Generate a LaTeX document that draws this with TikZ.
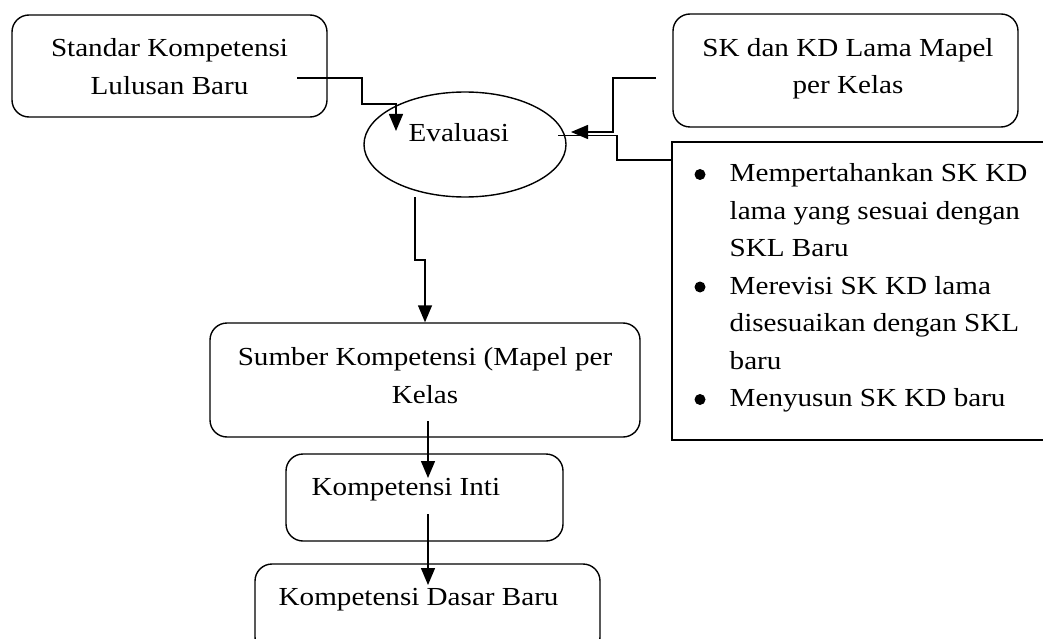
\documentclass[tikz,border=0pt]{standalone}
\usepackage{fontspec}
\setmainfont{Liberation Serif}[FakeStretch=1.12]
\usetikzlibrary{arrows.meta,shapes.geometric}
\begin{document}
\begin{tikzpicture}[x=1pt,y=-1pt,
  line width=1.4pt,
  rbox/.style={draw, rounded corners=17pt, line width=1.4pt, inner sep=0pt},
  sbox/.style={draw, line width=1.8pt, inner sep=0pt},
  ell/.style={draw, ellipse, line width=1.4pt, inner sep=0pt},
  txt/.style={anchor=base, inner sep=0pt, font=\fontsize{26}{37.5}\selectfont},
  ltxt/.style={anchor=base west, inner sep=0pt, font=\fontsize{26}{37.5}\selectfont},
  dot/.style={circle, fill=black, inner sep=0pt, minimum size=11pt},
  arr/.style={-{Triangle[length=17pt,width=14pt]}},
]
\useasboundingbox (0,0) rectangle (1043,639);
\clip (0,0) rectangle (1043,639);
\fill[white] (0,0) rectangle (1043,639);

% boxes
\node[rbox, minimum width=315pt, minimum height=102pt] (skl) at (169.5,66) {};
\node[rbox, minimum width=345pt, minimum height=113pt] (skkd) at (845.5,70.5) {};
\node[ell, minimum width=202pt, minimum height=105pt] (eval) at (465,144.5) {};
\node[sbox, minimum width=388pt, minimum height=298pt] (opt) at (866,291) {};
\node[rbox, minimum width=430pt, minimum height=114pt] (sumber) at (425,380) {};
\node[rbox, minimum width=277pt, minimum height=87pt] (inti) at (424.5,497.5) {};
\node[rbox, minimum width=345pt, minimum height=90pt] (dasar) at (427.5,609) {};

% texts
\node[txt] (skl1) at (169.5,57) {Standar Kompetensi};
\node[txt] (skl2) at (169.5,95) {Lulusan Baru};
\node[txt] (skkd1) at (848,57) {SK dan KD Lama Mapel};
\node[txt] (skkd2) at (848,94) {per Kelas};
\node[ltxt] (evalt) at (408,142) {Evaluasi};
\node[txt] (sum1) at (425,365) {Sumber Kompetensi (Mapel per};
\node[txt] (sum2) at (425,403) {Kelas};
\node[ltxt] (intit) at (311,495) {Kompetensi Inti};
\node[ltxt] (dasart) at (278,605) {Kompetensi Dasar Baru};

% bullet list
\node[dot] (b1) at (700,174.5) {};
\node[dot] (b2) at (700,287) {};
\node[dot] (b3) at (700,399.5) {};
\node[ltxt] (l1) at (729,181.5) {Mempertahankan SK KD};
\node[ltxt] (l2) at (729,219) {lama yang sesuai dengan};
\node[ltxt] (l3) at (729,256.5) {SKL Baru};
\node[ltxt] (l4) at (729,294) {Merevisi SK KD lama};
\node[ltxt] (l5) at (729,331.5) {disesuaikan dengan SKL};
\node[ltxt] (l6) at (729,369) {baru};
\node[ltxt] (l7) at (729,406.5) {Menyusun SK KD baru};

% connector coordinates
\coordinate (c1s) at (297,78);
\coordinate (c1e) at (396,131);
\coordinate (c2s) at (656,78);
\coordinate (c2e) at (571,132);
\coordinate (c3s) at (opt.west |- 0,160);
\coordinate (c3e) at (558,135.5);
\coordinate (c4s) at (415,197);
\coordinate (c5s) at (428,421);
\coordinate (c5e) at (428,478);
\coordinate (c6s) at (428,514);
\coordinate (c6e) at (428,585);

% connectors
\draw[arr] (c1s) -- (362,78) -- (362,104) -| (c1e);
\draw[arr] (c2s) -- (613,78) |- (c2e);
\draw (c3s) -- (617,160) |- (c3e);
\draw[arr] (c4s) |- (sumber.north |- 0,260) -- (sumber.north);
\draw[arr] (c5s) -- (c5e);
\draw[arr] (c6s) -- (c6e);
\end{tikzpicture}
\end{document}
